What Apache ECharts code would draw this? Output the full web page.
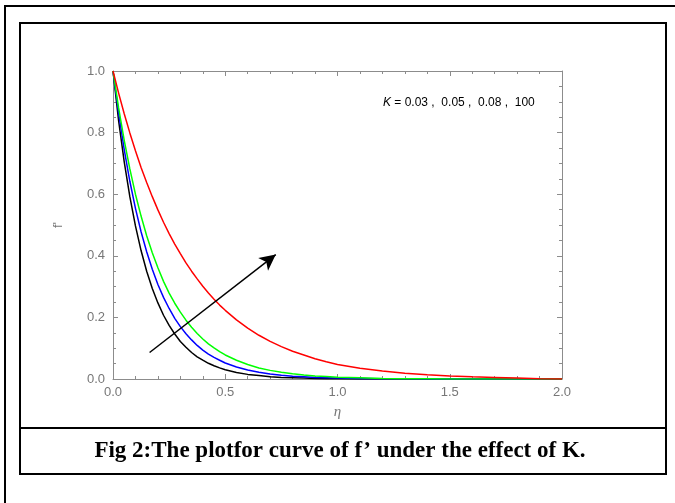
<!DOCTYPE html>
<html>
<head>
<meta charset="utf-8">
<script src="https://cdn.jsdelivr.net/npm/echarts@6/dist/echarts.min.js"></script>
<style>
  html, body { margin: 0; padding: 0; background: #fff; }
  #chart { width: 675px; height: 503px; }
</style>
</head>
<body>
<div id="chart"></div>
<script>
// eta sample points
const etaValues = [
  0, 0.025, 0.05, 0.075, 0.1, 0.125, 0.15, 0.175, 0.2, 0.225, 0.25, 0.275, 0.3, 0.325, 0.35, 0.375, 0.4, 0.425, 0.45, 0.475, 0.5,
  0.55, 0.6, 0.65, 0.7, 0.75, 0.8, 0.85, 0.9, 0.95, 1.0,
  1.1, 1.2, 1.3, 1.4, 1.5, 1.6, 1.7, 1.8, 1.9, 2.0
];

// f', one list per K
const fBlack = [
  1, 0.839, 0.705, 0.592, 0.497, 0.417, 0.350, 0.294, 0.247, 0.207, 0.174, 0.146, 0.122, 0.103, 0.086, 0.072, 0.061, 0.051, 0.043, 0.036, 0.030,
  0.021, 0.015, 0.011, 0.007, 0.005, 0.004, 0.003, 0.002, 0.001, 0.001,
  0, 0, 0, 0, 0, 0, 0, 0, 0, 0
];
const fBlue = [
  1, 0.863, 0.745, 0.642, 0.554, 0.478, 0.413, 0.356, 0.307, 0.265, 0.229, 0.197, 0.170, 0.147, 0.127, 0.109, 0.094, 0.081, 0.070, 0.061, 0.052,
  0.039, 0.029, 0.022, 0.016, 0.012, 0.009, 0.007, 0.005, 0.004, 0.003,
  0.002, 0.001, 0.0005, 0, 0, 0, 0, 0, 0, 0
];
const fGreen = [
  1, 0.880, 0.775, 0.682, 0.600, 0.529, 0.465, 0.410, 0.361, 0.317, 0.279, 0.246, 0.217, 0.191, 0.168, 0.148, 0.130, 0.114, 0.101, 0.089, 0.078,
  0.061, 0.047, 0.036, 0.028, 0.022, 0.017, 0.013, 0.010, 0.008, 0.006,
  0.004, 0.002, 0.001, 0.001, 0, 0, 0, 0, 0, 0
];
const fRed = [
  1, 0.928, 0.861, 0.799, 0.741, 0.687, 0.638, 0.592, 0.549, 0.509, 0.472, 0.438, 0.407, 0.377, 0.350, 0.325, 0.301, 0.279, 0.259, 0.240, 0.223,
  0.192, 0.165, 0.142, 0.122, 0.105, 0.090, 0.078, 0.066, 0.056, 0.047,
  0.035, 0.026, 0.019, 0.014, 0.010, 0.007, 0.005, 0.003, 0.001, 0
];

const seriesNames = ["K = 0.03", "K = 0.05", "K = 0.08", "K = 100"];
const seriesColors = ["#000000", "#0000ff", "#00ff00", "#ff0000"];

// arrow showing increasing K
const arrowStart = [0.163, 0.086];
const arrowEnd = [0.725, 0.404];

const chart = echarts.init(document.getElementById("chart"), null, { renderer: "canvas" });

const pair = (ys) => etaValues.map((x, i) => [x, ys[i]]);

const axisGray = "#8c8c8c";
const labelGray = "#777777";

function frameAxis(type, pos, show, extra) {
  return Object.assign({
    type: "value",
    position: pos,
    min: 0,
    max: type === "x" ? 2 : 1,
    interval: type === "x" ? 0.5 : 0.2,
    axisLine: { show: true, onZero: false, lineStyle: { color: axisGray, width: 1 } },
    axisTick: { show: true, inside: true, length: 5, lineStyle: { color: axisGray } },
    minorTick: { show: true, splitNumber: type === "x" ? 5 : 4, length: 3, lineStyle: { color: axisGray } },
    splitLine: { show: false },
    axisLabel: {
      show: show,
      color: labelGray,
      fontFamily: "Liberation Sans",
      fontSize: 13,
      margin: type === "x" ? 7 : 8,
      formatter: (v) => v.toFixed(1)
    }
  }, extra || {});
}

const lineData = [fBlack, fBlue, fGreen, fRed];

const series = lineData.map((ys, i) => ({
  name: seriesNames[i],
  type: "line",
  data: pair(ys),
  smooth: false,
  showSymbol: false,
  lineStyle: { color: seriesColors[i], width: 1.5 },
  z: 3
}));

series.push({
  type: "line",
  data: [],
  markLine: {
    silent: true,
    symbol: ["none", "arrow"],
    symbolSize: [12, 16],
    lineStyle: { color: "#000", width: 1.5, type: "solid" },
    label: { show: false },
    data: [[{ coord: arrowStart }, { coord: arrowEnd }]]
  }
});

const option = {
  animation: false,
  backgroundColor: "#fff",
  grid: { left: 113, right: 113, top: 71, bottom: 124 },
  xAxis: [
    frameAxis("x", "bottom", true, {
      name: "η",
      nameLocation: "middle",
      nameGap: 26,
      nameTextStyle: { color: labelGray, fontStyle: "italic", fontFamily: "Liberation Serif", fontSize: 15 }
    }),
    frameAxis("x", "top", false)
  ],
  yAxis: [
    frameAxis("y", "left", true, {
      name: "f'",
      nameLocation: "middle",
      nameGap: 48,
      nameRotate: 90,
      nameTextStyle: { color: labelGray, fontFamily: "Liberation Sans", fontSize: 13 }
    }),
    frameAxis("y", "right", false)
  ],
  series: series,
  graphic: [
    { type: "rect", shape: { x: 5, y: 6, width: 700, height: 600 }, style: { fill: "none", stroke: "#000", lineWidth: 2 }, silent: true },
    { type: "rect", shape: { x: 20, y: 23, width: 646, height: 451 }, style: { fill: "none", stroke: "#000", lineWidth: 2 }, silent: true },
    { type: "line", shape: { x1: 20, y1: 428, x2: 666, y2: 428 }, style: { stroke: "#000", lineWidth: 2 }, silent: true },
    {
      type: "text",
      left: 383,
      top: 97,
      style: {
        text: "{k|K} = 0.03 ,  0.05 ,  0.08 ,  100",
        font: "12px 'Liberation Sans'",
        fill: "#000",
        rich: { k: { fontStyle: "italic", fontSize: 12, fontFamily: "Liberation Sans", fill: "#000" } }
      }
    },
    {
      type: "text",
      x: 340,
      y: 451,
      style: {
        text: "Fig 2:The plotfor curve of f\u2019 under the effect of K.",
        font: "bold 23px 'Liberation Serif'",
        fill: "#000",
        align: "center",
        verticalAlign: "middle"
      }
    }
  ]
};

chart.setOption(option);
</script>
</body>
</html>
